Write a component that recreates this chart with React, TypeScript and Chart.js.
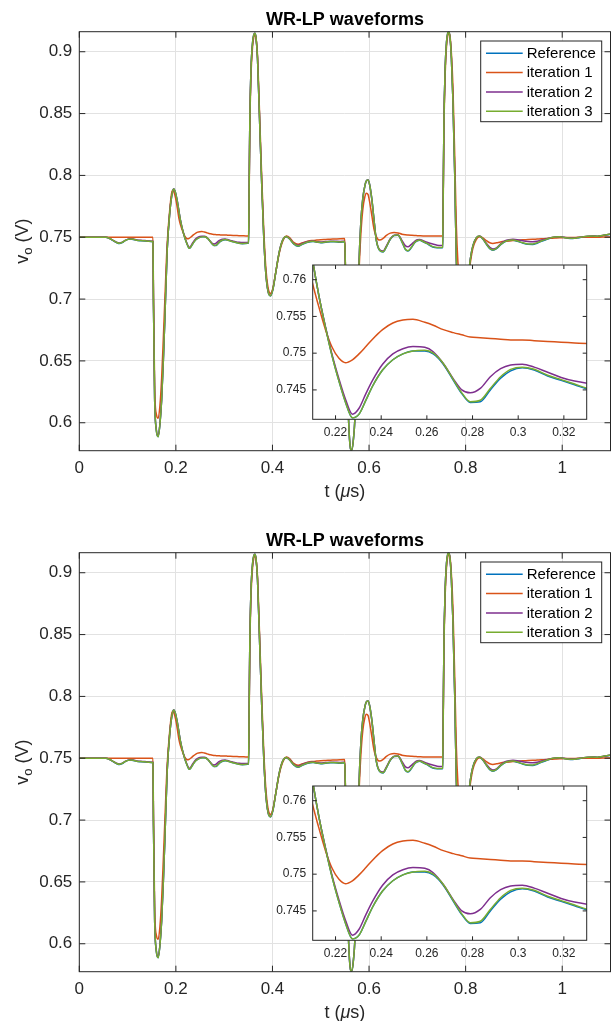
import React, { useEffect, useRef } from "react";
import { Chart, registerables } from "chart.js";
Chart.register(...registerables);

const FONT = '"Liberation Sans", Arial, Helvetica, sans-serif';

// time (µs)
const tValues = [
  // before first transition
  0, 0.03, 0.055, 0.062, 0.07, 0.077, 0.083, 0.089, 0.095, 0.105, 0.112, 0.119, 0.127, 0.136, 0.144, 0.1525,
  // first dip
  0.1535, 0.156, 0.1595, 0.1634, 0.167, 0.1705, 0.174, 0.1773, 0.182, 0.1876, 0.1911, 0.1935, 0.1959, 0.1995, 0.203, 0.2065,
  // ringing (inset range)
  0.2094, 0.2126, 0.2156, 0.2185, 0.2215, 0.2244, 0.2274, 0.2303, 0.2333, 0.2362, 0.2406, 0.2451, 0.2495, 0.2539, 0.2591,
  0.2628, 0.2672, 0.2716, 0.2753, 0.279, 0.2834, 0.2878, 0.2923, 0.2967, 0.3018, 0.307, 0.3129, 0.3188, 0.3247, 0.3306,
  0.338, 0.345, 0.3505,
  // first spike
  0.3515, 0.353, 0.3555, 0.359, 0.3615, 0.3636, 0.366, 0.369, 0.374, 0.378, 0.382, 0.386, 0.391, 0.396, 0.401, 0.407,
  0.414, 0.421, 0.429, 0.436, 0.444, 0.453, 0.462, 0.473, 0.484, 0.492, 0.5, 0.51, 0.52, 0.53, 0.54, 0.5495,
  // second dip
  0.5505, 0.5535, 0.557, 0.5605, 0.5635, 0.567, 0.571, 0.575, 0.579, 0.583, 0.587, 0.5915, 0.5945, 0.598, 0.6015, 0.606,
  0.61, 0.615, 0.622, 0.629, 0.636, 0.644, 0.652, 0.66, 0.668, 0.675, 0.6806, 0.687, 0.694, 0.7, 0.7048, 0.712, 0.72,
  0.732, 0.741, 0.7497, 0.7525,
  // second spike
  0.7535, 0.755, 0.7575, 0.7605, 0.763, 0.765, 0.7675, 0.7705, 0.7737, 0.7775, 0.7807, 0.784, 0.788, 0.7925, 0.797,
  0.8015, 0.806, 0.81, 0.815, 0.822, 0.829, 0.836, 0.843, 0.85, 0.8565, 0.864, 0.872, 0.881, 0.89, 0.898, 0.907, 0.918,
  0.929, 0.939, 0.948, 0.957, 0.967, 0.976, 0.985, 0.9945, 1.003, 1.012, 1.022, 1.032, 1.042, 1.053, 1.063, 1.073,
  1.083, 1.092, 1.1,
];

const referenceValues = [
  0.75, 0.75, 0.7499, 0.7491, 0.7473, 0.7457, 0.7449, 0.7457, 0.7473, 0.7485, 0.7482, 0.7475, 0.7472, 0.747, 0.7467, 0.7464,
  0.70, 0.62, 0.594, 0.5887, 0.599, 0.6184, 0.650, 0.6857, 0.7397, 0.771, 0.7828, 0.7875, 0.789, 0.7855, 0.779, 0.7705,
  0.7638, 0.758, 0.7535, 0.7496, 0.7462, 0.7433, 0.7412, 0.7417, 0.7436, 0.7455, 0.7477, 0.7491, 0.7499, 0.7503, 0.7503,
  0.7499, 0.7485, 0.7463, 0.7445, 0.7433, 0.7434, 0.745, 0.7466, 0.7476, 0.748, 0.7477, 0.7469, 0.7463, 0.7457, 0.7451,
  0.7448, 0.745, 0.7453,
  0.78, 0.84, 0.885, 0.908, 0.9138, 0.9149, 0.911, 0.895, 0.8366, 0.79, 0.75, 0.722, 0.706, 0.7025, 0.7078, 0.7218,
  0.7378, 0.7474, 0.7504, 0.7484, 0.7446, 0.7427, 0.7443, 0.746, 0.7466, 0.746, 0.7456, 0.746, 0.7464, 0.7463, 0.746, 0.7463,
  0.735, 0.68, 0.61, 0.582, 0.5774, 0.584, 0.605, 0.655, 0.726, 0.762, 0.781, 0.792, 0.7955, 0.7963, 0.792, 0.78,
  0.765, 0.7475, 0.7392, 0.738, 0.7422, 0.7483, 0.7514, 0.7517, 0.7463, 0.7402, 0.7388, 0.7412, 0.7453, 0.7472, 0.7475, 0.7464, 0.7448,
  0.7421, 0.7415, 0.7415, 0.7417,
  0.78, 0.84, 0.885, 0.908, 0.915, 0.9162, 0.912, 0.895, 0.861, 0.80, 0.7323, 0.712, 0.70, 0.696, 0.698,
  0.707, 0.72, 0.733, 0.743, 0.7494, 0.7509, 0.7483, 0.7442, 0.7407, 0.7394, 0.7407, 0.7437, 0.7462, 0.7474, 0.7476, 0.7468, 0.7453,
  0.7443, 0.7442, 0.7452, 0.7467, 0.7481, 0.7493, 0.7501, 0.7503, 0.7498, 0.7492, 0.749, 0.7495, 0.7502, 0.7507, 0.7509, 0.7507,
  0.7513, 0.7519, 0.7525,
];

const iteration1Values = [
  0.75, 0.75, 0.75, 0.75, 0.75, 0.75, 0.75, 0.75, 0.75, 0.75, 0.75, 0.75, 0.75, 0.75, 0.75, 0.75,
  0.71, 0.63, 0.607, 0.6036, 0.614, 0.636, 0.668, 0.701, 0.745, 0.7735, 0.7855, 0.7878, 0.7866, 0.7815, 0.7735, 0.7648,
  0.7602, 0.7564, 0.7532, 0.7508, 0.7493, 0.7487, 0.7491, 0.7499, 0.7509, 0.7519, 0.7532, 0.7541, 0.7545, 0.7546, 0.7542,
  0.7538, 0.7532, 0.7528, 0.7525, 0.7522, 0.7521, 0.752, 0.7519, 0.7518, 0.7518, 0.7517, 0.7516, 0.7515, 0.7514, 0.7513,
  0.7512, 0.7511, 0.7511,
  0.775, 0.835, 0.88, 0.905, 0.912, 0.9135, 0.911, 0.897, 0.842, 0.796, 0.756, 0.727, 0.709, 0.7046, 0.709, 0.722,
  0.737, 0.7465, 0.751, 0.7495, 0.7458, 0.7443, 0.7455, 0.7468, 0.7474, 0.7477, 0.748, 0.7482, 0.7484, 0.7486, 0.7488, 0.7489,
  0.737, 0.685, 0.625, 0.606, 0.604, 0.612, 0.632, 0.675, 0.72, 0.752, 0.772, 0.783, 0.7855, 0.7845, 0.778, 0.767,
  0.757, 0.7505, 0.7477, 0.749, 0.7515, 0.7533, 0.7539, 0.7535, 0.7525, 0.752, 0.7518, 0.7516, 0.7514, 0.7513, 0.7512, 0.7511, 0.7511,
  0.751, 0.751, 0.751, 0.751,
  0.775, 0.835, 0.88, 0.905, 0.913, 0.915, 0.913, 0.899, 0.872, 0.815, 0.76, 0.73, 0.712, 0.703, 0.701,
  0.706, 0.718, 0.73, 0.741, 0.748, 0.7503, 0.7495, 0.7472, 0.7455, 0.745, 0.7455, 0.7462, 0.7467, 0.747, 0.7473, 0.7476, 0.7479,
  0.7481, 0.7483, 0.7485, 0.7487, 0.749, 0.7492, 0.7494, 0.7496, 0.7497, 0.7498, 0.7498, 0.7499, 0.7499, 0.75, 0.75, 0.75,
  0.7501, 0.7501, 0.7501,
];

const iteration2Values = [
  0.75, 0.75, 0.7499, 0.7492, 0.7475, 0.746, 0.7454, 0.746, 0.7475, 0.7487, 0.7485, 0.7478, 0.7475, 0.7473, 0.747, 0.7467,
  0.70, 0.62, 0.5945, 0.5893, 0.5995, 0.619, 0.6505, 0.686, 0.7398, 0.771, 0.7828, 0.7875, 0.789, 0.7855, 0.779, 0.7705,
  0.7638, 0.758, 0.7536, 0.7498, 0.7465, 0.7437, 0.7417, 0.7425, 0.7445, 0.7463, 0.7485, 0.7499, 0.7506, 0.7509, 0.7508,
  0.7502, 0.7486, 0.7465, 0.745, 0.7446, 0.7452, 0.7468, 0.7479, 0.7484, 0.7485, 0.7481, 0.7474, 0.7467, 0.7462, 0.7459,
  0.7457, 0.7457, 0.7457,
  0.78, 0.84, 0.885, 0.908, 0.9138, 0.9149, 0.911, 0.895, 0.8366, 0.79, 0.75, 0.722, 0.706, 0.7029, 0.7082, 0.7222,
  0.7382, 0.7477, 0.7506, 0.7487, 0.745, 0.7435, 0.7449, 0.7466, 0.7469, 0.7464, 0.7461, 0.7465, 0.7468, 0.7467, 0.7466, 0.7468,
  0.735, 0.68, 0.61, 0.582, 0.5776, 0.5842, 0.6052, 0.655, 0.726, 0.762, 0.781, 0.792, 0.7955, 0.7963, 0.792, 0.78,
  0.7652, 0.748, 0.7398, 0.7388, 0.743, 0.7488, 0.7517, 0.7519, 0.7475, 0.7432, 0.7423, 0.744, 0.7465, 0.748, 0.7482, 0.7472, 0.746,
  0.7445, 0.7436, 0.7434, 0.7435,
  0.78, 0.84, 0.885, 0.908, 0.915, 0.9162, 0.912, 0.895, 0.861, 0.80, 0.7323, 0.712, 0.70, 0.696, 0.698,
  0.707, 0.72, 0.733, 0.743, 0.7495, 0.751, 0.7487, 0.745, 0.7418, 0.7405, 0.7415, 0.7445, 0.747, 0.748, 0.7483, 0.748, 0.7472,
  0.7466, 0.7464, 0.7468, 0.7477, 0.7487, 0.7496, 0.7502, 0.7504, 0.75, 0.7495, 0.7493, 0.7497, 0.7503, 0.7508, 0.751, 0.7509,
  0.7514, 0.752, 0.7525,
];

const iteration3Values = [
  0.75, 0.75, 0.7499, 0.7492, 0.7474, 0.7458, 0.7451, 0.7458, 0.7474, 0.7486, 0.7483, 0.7476, 0.7473, 0.7471, 0.7468, 0.7465,
  0.70, 0.62, 0.594, 0.5887, 0.599, 0.6184, 0.650, 0.6857, 0.7397, 0.771, 0.7828, 0.7875, 0.789, 0.7855, 0.779, 0.7705,
  0.7638, 0.758, 0.7535, 0.7496, 0.7462, 0.7433, 0.7412, 0.7417, 0.7436, 0.7455, 0.7477, 0.7491, 0.7499, 0.7503, 0.7504,
  0.75, 0.7486, 0.7464, 0.7446, 0.7434, 0.7436, 0.7452, 0.7468, 0.7478, 0.7481, 0.7478, 0.747, 0.7464, 0.7458, 0.7452,
  0.7449, 0.7451, 0.7454,
  0.78, 0.84, 0.885, 0.908, 0.9138, 0.9149, 0.911, 0.895, 0.8366, 0.79, 0.75, 0.722, 0.706, 0.7027, 0.708, 0.722,
  0.738, 0.7475, 0.7505, 0.7485, 0.7448, 0.743, 0.7445, 0.7462, 0.7467, 0.7461, 0.7458, 0.7462, 0.7466, 0.7464, 0.7462, 0.7465,
  0.735, 0.68, 0.61, 0.582, 0.5774, 0.584, 0.605, 0.655, 0.726, 0.762, 0.781, 0.792, 0.7955, 0.7963, 0.792, 0.78,
  0.765, 0.7477, 0.7395, 0.7383, 0.7425, 0.7485, 0.7515, 0.7518, 0.7465, 0.7405, 0.7391, 0.7415, 0.7455, 0.7474, 0.7477, 0.7466, 0.745,
  0.7424, 0.7418, 0.7418, 0.742,
  0.78, 0.84, 0.885, 0.908, 0.915, 0.9162, 0.912, 0.895, 0.861, 0.80, 0.7323, 0.712, 0.70, 0.696, 0.698,
  0.707, 0.72, 0.733, 0.743, 0.7495, 0.751, 0.7485, 0.7445, 0.741, 0.7397, 0.741, 0.744, 0.7465, 0.7476, 0.7477, 0.747, 0.7455,
  0.7446, 0.7445, 0.7455, 0.747, 0.7483, 0.7495, 0.7502, 0.7504, 0.7499, 0.7493, 0.7491, 0.7496, 0.7503, 0.7508, 0.751, 0.7508,
  0.7514, 0.752, 0.7526,
];

const seriesNames = ["Reference", "iteration 1", "iteration 2", "iteration 3"];
const seriesColors = ["#0072BD", "#D95319", "#7E2F8E", "#77AC30"];

const mainXTicks = [0, 0.2, 0.4, 0.6, 0.8, 1];
const mainYTicks = [0.6, 0.65, 0.7, 0.75, 0.8, 0.85, 0.9];
const mainXRange = [0, 1.1];
const mainYRange = [0.5774, 0.9162];

const insetXTicks = [0.22, 0.24, 0.26, 0.28, 0.3, 0.32];
const insetYTicks = [0.745, 0.75, 0.755, 0.76];
const insetXRange = [0.21, 0.33];
const insetYRange = [0.741, 0.762];

const titleText = "WR-LP waveforms";

const PANEL_H = 521;
const W = 611;

function makeDatasets() {
  const all = [referenceValues, iteration1Values, iteration2Values, iteration3Values];
  return all.map((vals, k) => ({
    label: seriesNames[k],
    data: tValues
      .map((t, i) => ({ x: t, y: vals[i] }))
      .filter((p) => p.y !== undefined),
    borderColor: seriesColors[k],
    backgroundColor: seriesColors[k],
    borderWidth: 1.5,
    pointRadius: 0,
    cubicInterpolationMode: "monotone" as const,
    order: 4 - k,
    fill: false,
  }));
}

const fmt = (v: number) => String(Number(v.toFixed(4)));

function boxPlugin(xTicks: number[], yTicks: number[], tickLen: number, lw: number) {
  return {
    id: "axesBox",
    afterDatasetsDraw(chart: any) {
      const { ctx, chartArea: a, scales } = chart;
      ctx.save();
      ctx.strokeStyle = "#262626";
      ctx.lineWidth = lw;
      ctx.beginPath();
      for (const v of xTicks) {
        const px = scales.x.getPixelForValue(v);
        ctx.moveTo(px, a.bottom);
        ctx.lineTo(px, a.bottom - tickLen);
        ctx.moveTo(px, a.top);
        ctx.lineTo(px, a.top + tickLen);
      }
      for (const v of yTicks) {
        const py = scales.y.getPixelForValue(v);
        ctx.moveTo(a.left, py);
        ctx.lineTo(a.left + tickLen, py);
        ctx.moveTo(a.right, py);
        ctx.lineTo(a.right - tickLen, py);
      }
      ctx.stroke();
      ctx.strokeRect(a.left, a.top, a.right - a.left, a.bottom - a.top);
      ctx.restore();
    },
  };
}

function drawParts(ctx: CanvasRenderingContext2D, parts: { t: string; font: string; dy: number }[], cx: number, baseline: number) {
  let total = 0;
  for (const p of parts) {
    ctx.font = p.font;
    total += ctx.measureText(p.t).width;
  }
  let x = cx - total / 2;
  for (const p of parts) {
    ctx.font = p.font;
    ctx.fillText(p.t, x, baseline + p.dy);
    x += ctx.measureText(p.t).width;
  }
}

const textPlugin = {
  id: "texts",
  afterDraw(chart: any) {
    const { ctx, chartArea: a } = chart;
    const cx = (a.left + a.right) / 2;
    const cy = (a.top + a.bottom) / 2;
    ctx.save();
    ctx.textAlign = "left";
    ctx.textBaseline = "alphabetic";
    // title
    ctx.fillStyle = "#000000";
    ctx.font = `bold 18px ${FONT}`;
    ctx.textAlign = "center";
    ctx.fillText(titleText, cx, 25);
    ctx.textAlign = "left";
    ctx.fillStyle = "#262626";
    // x label
    drawParts(
      ctx,
      [
        { t: "t (", font: `18px ${FONT}`, dy: 0 },
        { t: "\u03bc", font: `italic 18px ${FONT}`, dy: 0 },
        { t: "s)", font: `18px ${FONT}`, dy: 0 },
      ],
      cx,
      a.bottom + 46.5
    );
    // y label
    ctx.save();
    ctx.translate(28, cy);
    ctx.rotate(-Math.PI / 2);
    drawParts(
      ctx,
      [
        { t: "v", font: `18px ${FONT}`, dy: 0 },
        { t: "o", font: `13px ${FONT}`, dy: 4 },
        { t: " (V)", font: `18px ${FONT}`, dy: 0 },
      ],
      0,
      0
    );
    ctx.restore();
    // legend
    const lx = 480.7, ly = 41, lw = 121, lh = 80.7;
    ctx.fillStyle = "#ffffff";
    ctx.fillRect(lx, ly, lw, lh);
    ctx.strokeStyle = "#262626";
    ctx.lineWidth = 1;
    ctx.strokeRect(lx, ly, lw, lh);
    ctx.font = `15px ${FONT}`;
    ctx.textBaseline = "middle";
    for (let k = 0; k < seriesNames.length; k++) {
      const y = 53.3 + k * 19.3;
      ctx.strokeStyle = seriesColors[k];
      ctx.lineWidth = 1.5;
      ctx.beginPath();
      ctx.moveTo(486, y);
      ctx.lineTo(522.7, y);
      ctx.stroke();
      ctx.fillStyle = "#000000";
      ctx.fillText(seriesNames[k], 526.7, y + 0.5);
    }
    ctx.restore();
  },
};

const insetBgPlugin = {
  id: "insetBg",
  beforeDraw(chart: any) {
    const { ctx, chartArea: a } = chart;
    ctx.save();
    ctx.fillStyle = "#ffffff";
    ctx.fillRect(a.left, a.top, a.right - a.left, a.bottom - a.top);
    ctx.restore();
  },
};

const INSET_LEFT = 262;
const INSET_TOP = 249;
const INSET_W = 340;
const INSET_H = 200;

function Panel({ top }: { top: number }) {
  const mainRef = useRef<HTMLCanvasElement | null>(null);
  const insetRef = useRef<HTMLCanvasElement | null>(null);

  useEffect(() => {
    const main = new Chart(mainRef.current as HTMLCanvasElement, {
      type: "line",
      data: { datasets: makeDatasets() as any },
      options: {
        animation: false,
        responsive: false,
        maintainAspectRatio: false,
        events: [],
        layout: { padding: { top: 31.7, right: 0.5, left: 0, bottom: 0 }, autoPadding: false },
        plugins: { legend: { display: false }, title: { display: false }, tooltip: { enabled: false } },
        scales: {
          x: {
            type: "linear",
            min: mainXRange[0],
            max: mainXRange[1],
            afterBuildTicks: (s: any) => {
              s.ticks = mainXTicks.map((v) => ({ value: v }));
            },
            afterFit: (s: any) => {
              s.height = PANEL_H - 450.7;
            },
            ticks: {
              callback: (v: any) => fmt(Number(v)),
              font: { family: FONT, size: 17 },
              color: "#262626",
              padding: 7,
              maxRotation: 0,
              autoSkip: false,
            },
            grid: { color: "#e2e2e2", lineWidth: 1, drawTicks: false },
            border: { display: false },
          },
          y: {
            type: "linear",
            min: mainYRange[0],
            max: mainYRange[1],
            afterBuildTicks: (s: any) => {
              s.ticks = mainYTicks.map((v) => ({ value: v }));
            },
            afterFit: (s: any) => {
              s.width = 79.3;
            },
            ticks: {
              callback: (v: any) => fmt(Number(v)),
              font: { family: FONT, size: 17 },
              color: "#262626",
              padding: 7,
              autoSkip: false,
            },
            grid: { color: "#e2e2e2", lineWidth: 1, drawTicks: false },
            border: { display: false },
          },
        },
      },
      plugins: [boxPlugin(mainXTicks, mainYTicks, 6, 1), textPlugin],
    });

    const inset = new Chart(insetRef.current as HTMLCanvasElement, {
      type: "line",
      data: { datasets: makeDatasets() as any },
      options: {
        animation: false,
        responsive: false,
        maintainAspectRatio: false,
        events: [],
        layout: {
          padding: { top: 265 - INSET_TOP, right: INSET_W - (586.7 - INSET_LEFT), left: 0, bottom: 0 },
          autoPadding: false,
        },
        plugins: { legend: { display: false }, title: { display: false }, tooltip: { enabled: false } },
        scales: {
          x: {
            type: "linear",
            min: insetXRange[0],
            max: insetXRange[1],
            afterBuildTicks: (s: any) => {
              s.ticks = insetXTicks.map((v) => ({ value: v }));
            },
            afterFit: (s: any) => {
              s.height = INSET_H - (419.3 - INSET_TOP);
            },
            ticks: {
              callback: (v: any) => fmt(Number(v)),
              font: { family: FONT, size: 12 },
              color: "#262626",
              padding: 6.5,
              maxRotation: 0,
              autoSkip: false,
            },
            grid: { display: false, drawTicks: false },
            border: { display: false },
          },
          y: {
            type: "linear",
            min: insetYRange[0],
            max: insetYRange[1],
            afterBuildTicks: (s: any) => {
              s.ticks = insetYTicks.map((v) => ({ value: v }));
            },
            afterFit: (s: any) => {
              s.width = 312.7 - INSET_LEFT;
            },
            ticks: {
              callback: (v: any) => fmt(Number(v)),
              font: { family: FONT, size: 12 },
              color: "#262626",
              padding: 6.5,
              autoSkip: false,
            },
            grid: { display: false, drawTicks: false },
            border: { display: false },
          },
        },
      },
      plugins: [insetBgPlugin, boxPlugin(insetXTicks, insetYTicks, 4, 1)],
    });

    return () => {
      main.destroy();
      inset.destroy();
    };
  }, []);

  return (
    <div style={{ position: "absolute", left: 0, top, width: W, height: PANEL_H }}>
      <canvas
        ref={mainRef}
        width={W}
        height={PANEL_H}
        style={{ position: "absolute", left: 0, top: 0, width: W, height: PANEL_H }}
      />
      <canvas
        ref={insetRef}
        width={INSET_W}
        height={INSET_H}
        style={{ position: "absolute", left: INSET_LEFT, top: INSET_TOP, width: INSET_W, height: INSET_H }}
      />
    </div>
  );
}

export default function App() {
  return (
    <div
      style={{
        position: "absolute",
        left: 0,
        top: 0,
        width: W,
        height: 1021,
        overflow: "hidden",
        background: "#ffffff",
      }}
    >
      <Panel top={0} />
      <Panel top={521} />
    </div>
  );
}
